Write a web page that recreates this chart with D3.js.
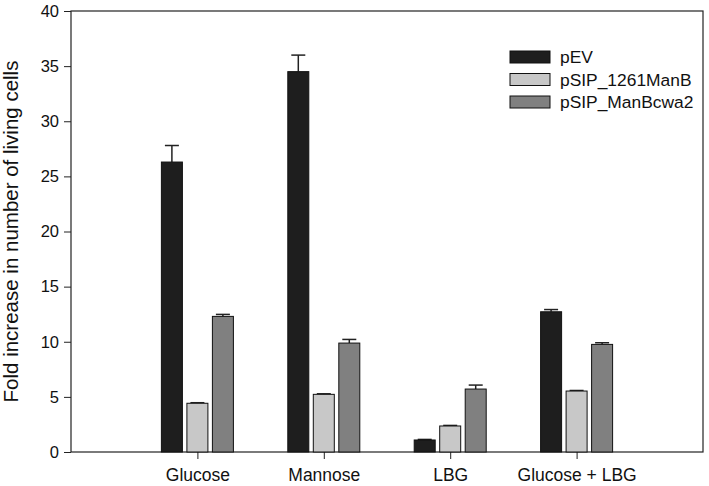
<!DOCTYPE html>
<html><head><meta charset="utf-8">
<script src="https://cdn.jsdelivr.net/npm/d3@7"></script>
<style>body{margin:0;background:#fff}svg{display:block}text{font-family:"Liberation Sans",Arial,sans-serif;fill:#111}</style>
</head><body><svg id="c" width="709" height="486"></svg>
<script>
const categories = ["Glucose", "Mannose", "LBG", "Glucose + LBG"];
const seriesNames = ["pEV", "pSIP_1261ManB", "pSIP_ManBcwa2"];
const pEV = [26.3, 34.5, 1.09, 12.72];
const pEVErr = [1.5, 1.5, 0.05, 0.2];
const manB = [4.42, 5.23, 2.36, 5.53];
const manBErr = [0.05, 0.05, 0.05, 0.05];
const cwa2 = [12.3, 9.88, 5.71, 9.76];
const cwa2Err = [0.18, 0.33, 0.36, 0.15];
const yTicks = [0, 5, 10, 15, 20, 25, 30, 35, 40];
const colors = ["#1e1e1e", "#c8c8c8", "#808080"];

const svg = d3.select("#c");
const L = 71, R = 703, T = 11, B = 452;
const x = d3.scaleLinear().domain([0, 5]).range([L, R]);
const y = d3.scaleLinear().domain([0, 40]).range([B, T]);
const series = [[pEV, pEVErr], [manB, manBErr], [cwa2, cwa2Err]];
const barW = 21, pitch = 25.5;
const FF = '"Liberation Sans",Arial,sans-serif';

// frame
svg.append("rect").attr("x", L).attr("y", T).attr("width", R - L).attr("height", B - T)
  .attr("fill", "none").attr("stroke", "#222").attr("stroke-width", 1.2);

// y axis
const ya = svg.append("g").attr("transform", `translate(${L},0)`)
  .call(d3.axisLeft(y).tickValues(yTicks).tickSize(7).tickPadding(5));
ya.select(".domain").remove();
ya.selectAll("line").attr("stroke", "#222");
ya.selectAll("text").style("font-size", "16.5px").attr("fill", "#111").style("font-family", FF);

// x axis
const xa = svg.append("g").attr("transform", `translate(0,${B})`)
  .call(d3.axisBottom(x).tickValues([1, 2, 3, 4]).tickFormat(d => categories[d - 1]).tickSize(7).tickPadding(10));
xa.select(".domain").remove();
xa.selectAll("line").attr("stroke", "#222");
xa.selectAll("text").style("font-size", "17.5px").attr("fill", "#111").style("font-family", FF);

// bars
series.forEach(([vals, errs], si) => {
  const g = svg.append("g");
  vals.forEach((v, ci) => {
    const cx = x(ci + 1) + (si - 1) * pitch;
    g.append("line").attr("x1", cx).attr("x2", cx).attr("y1", y(v)).attr("y2", y(v + errs[ci]))
      .attr("stroke", "#222").attr("stroke-width", 1.5);
    g.append("line").attr("x1", cx - 7).attr("x2", cx + 7).attr("y1", y(v + errs[ci])).attr("y2", y(v + errs[ci]))
      .attr("stroke", "#222").attr("stroke-width", 1.5);
    g.append("rect").attr("x", cx - barW / 2).attr("y", y(v)).attr("width", barW).attr("height", y(0) - y(v))
      .attr("fill", colors[si]).attr("stroke", "#111").attr("stroke-width", 1);
  });
});

// legend
const lg = svg.append("g");
seriesNames.forEach((n, i) => {
  lg.append("rect").attr("x", 510).attr("y", 51 + i * 22.5).attr("width", 40).attr("height", 12)
    .attr("fill", colors[i]).attr("stroke", "#111").attr("stroke-width", 1);
  lg.append("text").attr("x", 560).attr("y", 63 + i * 22.5).style("font-size", "17.4px").text(n);
});

// y label
svg.append("text").attr("transform", `translate(17.5,${(T + B) / 2}) rotate(-90)`)
  .attr("text-anchor", "middle").style("font-size", "20.5px")
  .text("Fold increase in number of living cells");
</script></body></html>
